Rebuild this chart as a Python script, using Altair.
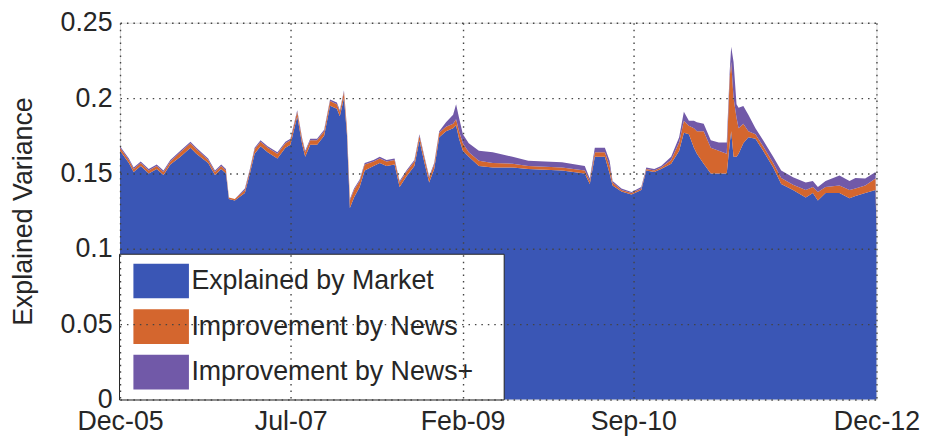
import altair as alt
import pandas as pd

# ---- data ----
dates = [
    "2005-12-01", "2005-12-31", "2006-01-16", "2006-02-09", "2006-03-08", "2006-04-04",
    "2006-04-27", "2006-05-20", "2006-06-23", "2006-07-27", "2006-08-16", "2006-09-25",
    "2006-10-18", "2006-11-08", "2006-11-24", "2006-12-04", "2006-12-24", "2007-01-27",
    "2007-02-13", "2007-03-01", "2007-03-21", "2007-04-14", "2007-05-17", "2007-06-13",
    "2007-06-30", "2007-07-23", "2007-08-09", "2007-08-19", "2007-09-05", "2007-09-28",
    "2007-10-22", "2007-11-11", "2007-12-04", "2007-12-14", "2007-12-28", "2008-01-07",
    "2008-01-17", "2008-01-31", "2008-02-19", "2008-03-07", "2008-04-06", "2008-04-27",
    "2008-05-20", "2008-06-16", "2008-07-03", "2008-07-26", "2008-08-22", "2008-09-08",
    "2008-09-24", "2008-10-11", "2008-10-28", "2008-11-14", "2008-12-07", "2008-12-31",
    "2009-01-10", "2009-01-20", "2009-02-02", "2009-02-22", "2009-03-28", "2009-05-14",
    "2009-07-20", "2009-09-11", "2010-01-03", "2010-03-21", "2010-04-07", "2010-04-24",
    "2010-05-28", "2010-06-13", "2010-06-23", "2010-07-23", "2010-08-26", "2010-09-28",
    "2010-10-15", "2010-11-11", "2010-12-04", "2011-01-07", "2011-02-03", "2011-02-19",
    "2011-03-08", "2011-03-25", "2011-04-04", "2011-04-27", "2011-05-21", "2011-06-17",
    "2011-07-14", "2011-07-24", "2011-07-29", "2011-08-06", "2011-08-16", "2011-08-23",
    "2011-09-08", "2011-09-25", "2011-10-19", "2011-11-14", "2011-12-18", "2012-01-14",
    "2012-02-23", "2012-04-06", "2012-04-30", "2012-05-17", "2012-06-12", "2012-07-29",
    "2012-09-01", "2012-09-21", "2012-10-24", "2012-11-28", "2012-12-01",
]

market = [
    0.165, 0.157, 0.151, 0.155, 0.150, 0.153,
    0.149, 0.156, 0.161, 0.167, 0.163, 0.157,
    0.149, 0.153, 0.150, 0.133, 0.132, 0.137,
    0.150, 0.163, 0.168, 0.164, 0.160, 0.167,
    0.169, 0.188, 0.169, 0.161, 0.169, 0.169,
    0.175, 0.195, 0.193, 0.188, 0.200, 0.176,
    0.127, 0.134, 0.141, 0.152, 0.155, 0.157,
    0.155, 0.156, 0.141, 0.148, 0.155, 0.172,
    0.158, 0.144, 0.153, 0.174, 0.178, 0.180,
    0.182, 0.173, 0.165, 0.161, 0.155, 0.154,
    0.154, 0.153, 0.152, 0.150, 0.143, 0.161,
    0.161, 0.150, 0.142, 0.138, 0.136, 0.139,
    0.152, 0.151, 0.153, 0.1565, 0.165, 0.177,
    0.176, 0.167, 0.163, 0.1565, 0.150, 0.150,
    0.150, 0.170, 0.178, 0.161, 0.161, 0.163,
    0.170, 0.174, 0.173, 0.165, 0.154, 0.143,
    0.139, 0.134, 0.137, 0.132, 0.137, 0.137,
    0.1335, 0.135, 0.137, 0.139, 0.113,
]

news_gain = [
    0.002, 0.002, 0.002, 0.002, 0.002, 0.002,
    0.002, 0.002, 0.003, 0.003, 0.003, 0.002,
    0.002, 0.002, 0.002, 0.001, 0.001, 0.002,
    0.002, 0.003, 0.003, 0.003, 0.003, 0.003,
    0.003, 0.003, 0.003, 0.003, 0.003, 0.003,
    0.003, 0.003, 0.003, 0.003, 0.004, 0.004,
    0.005, 0.005, 0.004, 0.004, 0.003, 0.003,
    0.003, 0.003, 0.003, 0.003, 0.003, 0.003,
    0.003, 0.003, 0.003, 0.003, 0.003, 0.003,
    0.004, 0.005, 0.005, 0.003, 0.0035, 0.003,
    0.0025, 0.002, 0.002, 0.002, 0.002, 0.003,
    0.003, 0.005, 0.002, 0.001, 0.001, 0.001,
    0.001, 0.001, 0.001, 0.0025, 0.0056, 0.008,
    0.0056, 0.013, 0.015, 0.0215, 0.017, 0.015,
    0.013, 0.044, 0.046, 0.039, 0.026, 0.017,
    0.013, 0.004, 0.003, 0.003, 0.003, 0.004,
    0.0035, 0.005, 0.004, 0.0057, 0.004, 0.005,
    0.0055, 0.005, 0.005, 0.0077, 0.003,
]

news_plus_gain = [
    0.001, 0.001, 0.001, 0.001, 0.001, 0.001,
    0.001, 0.001, 0.001, 0.001, 0.001, 0.001,
    0.001, 0.001, 0.001, 0.000, 0.000, 0.001,
    0.001, 0.001, 0.001, 0.001, 0.001, 0.001,
    0.001, 0.001, 0.001, 0.001, 0.001, 0.001,
    0.001, 0.001, 0.001, 0.001, 0.001, 0.001,
    0.001, 0.001, 0.001, 0.001, 0.001, 0.001,
    0.001, 0.001, 0.001, 0.001, 0.001, 0.001,
    0.001, 0.001, 0.001, 0.001, 0.003, 0.006,
    0.010, 0.009, 0.006, 0.006, 0.0065, 0.007,
    0.0045, 0.0035, 0.0035, 0.003, 0.0017, 0.003,
    0.003, 0.0035, 0.001, 0.001, 0.0007, 0.001,
    0.001, 0.001, 0.001, 0.002, 0.0034, 0.006,
    0.0034, 0.005, 0.006, 0.005, 0.005, 0.0056,
    0.0076, 0.004, 0.010, 0.024, 0.009, 0.0136,
    0.0117, 0.011, 0.004, 0.004, 0.004, 0.005,
    0.005, 0.005, 0.004, 0.0033, 0.004, 0.0067,
    0.006, 0.007, 0.0047, 0.0043, 0.001,
]

series_names = ["Explained by Market", "Improvement by News", "Improvement by News+"]
series_colors = ["#3A56B5", "#D4662E", "#7159A8"]

y_ticks = [0, 0.05, 0.1, 0.15, 0.2, 0.25]
x_ticks = ["2005-12", "2007-07", "2009-02", "2010-09", "2012-12"]

# ---- long table for stacking ----
rows = []
for i, d in enumerate(dates):
    for k, vals in enumerate([market, news_gain, news_plus_gain]):
        rows.append({"date": d + "T00:00:00", "series": series_names[k],
                     "order": k, "value": vals[i]})
df = pd.DataFrame(rows)

def dt(s):
    y, m = s.split("-")
    return alt.DateTime(year=int(y), month=int(m), date=1)

FONT = "Liberation Sans"
TXT = "#262626"

chart = alt.Chart(df).mark_area(opacity=1, interpolate="linear").encode(
    x=alt.X(
        "date:T",
        scale=alt.Scale(domain=[dt(x_ticks[0]), dt(x_ticks[-1])], nice=False),
        axis=alt.Axis(
            values=[dt(s) for s in x_ticks], format="%b-%y", title=None,
            labelFontSize=27, labelFont=FONT, labelColor=TXT, labelPadding=9,
            labelFlush=False, labelOverlap=False,
            ticks=False, domain=False,
            grid=True, gridColor="#444444", gridDash=[1.5, 5], gridWidth=1.4,
            zindex=1,
        ),
    ),
    y=alt.Y(
        "value:Q", stack="zero",
        scale=alt.Scale(domain=[0, 0.25], nice=False),
        axis=alt.Axis(
            values=y_ticks, format=".2~f", title="Explained Variance",
            titleFontSize=27, titleFont=FONT, titleColor=TXT, titleFontWeight="normal",
            titlePadding=23,
            labelFontSize=27, labelFont=FONT, labelColor=TXT, labelPadding=8,
            labelFlush=False, labelOverlap=False,
            ticks=False, domain=False,
            grid=True, gridColor="#444444", gridDash=[1.5, 5], gridWidth=1.4,
            zindex=1,
        ),
    ),
    color=alt.Color(
        "series:N",
        scale=alt.Scale(domain=series_names, range=series_colors),
        legend=alt.Legend(
            title=None, orient="none", legendX=-1, legendY=233,
            direction="vertical",
            fillColor="white", strokeColor="#222222",
            padding=10,
            symbolType="M-1.6,-1L1.6,-1L1.6,1L-1.6,1Z",
            symbolSize=1225, symbolStrokeWidth=0, symbolOpacity=1,
            symbolOffset=15,
            labelFontSize=27, labelFont=FONT, labelColor=TXT,
            labelOffset=13, labelLimit=500, rowPadding=11,
            labelExpr="datum.label + '\u2800'",
        ),
    ),
    order=alt.Order("order:Q", sort="ascending"),
).properties(
    width=763, height=380,
    autosize=alt.AutoSizeParams(type="none"),
    padding={"left": 113, "top": 13, "right": 52, "bottom": 40},
).configure_view(stroke=None).configure(background="white")

chart.save("out.html", embed_options={"renderer": "svg", "actions": False})
